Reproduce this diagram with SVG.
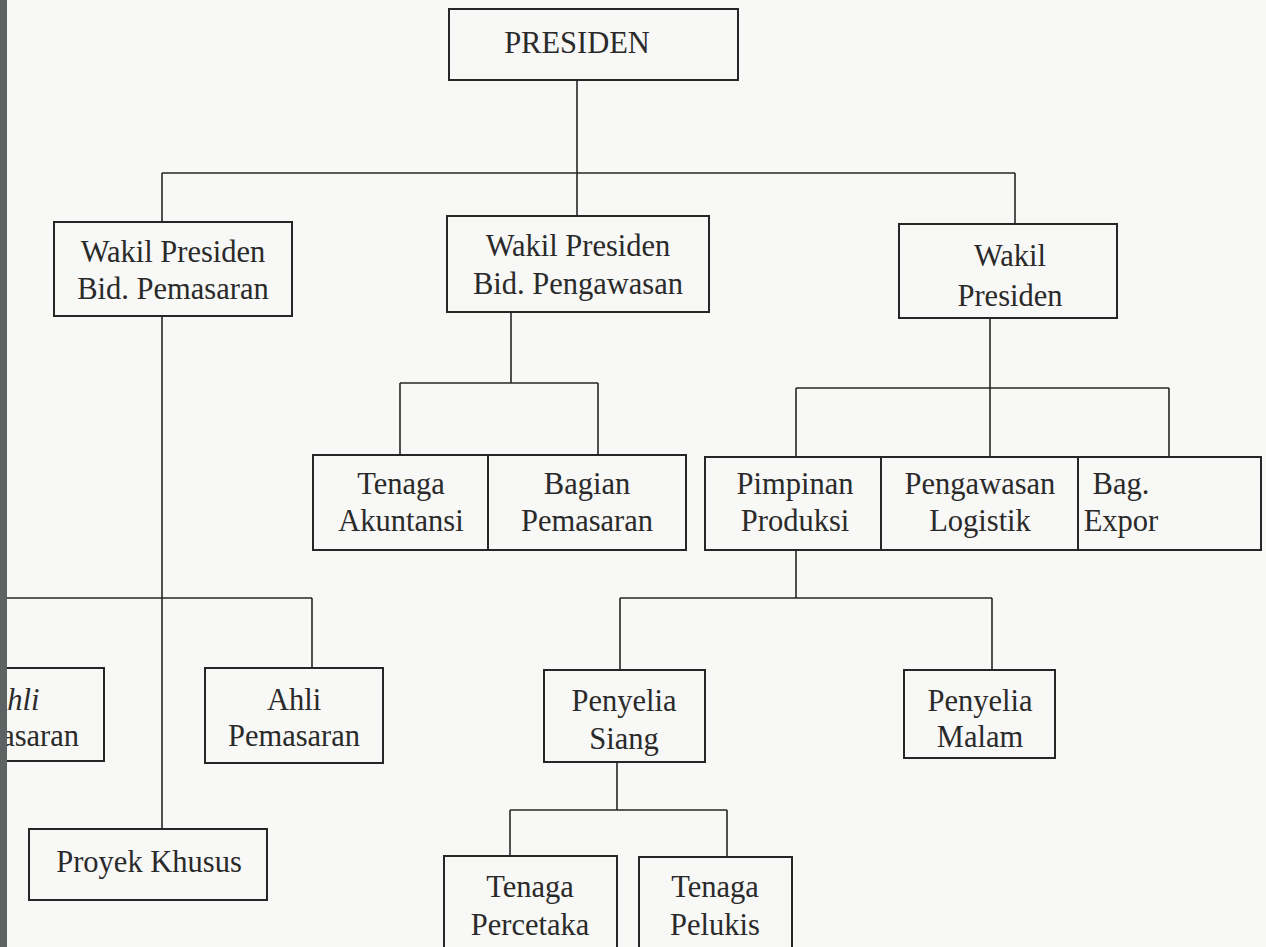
<svg xmlns="http://www.w3.org/2000/svg" width="1266" height="947" viewBox="0 0 1266 947">
<style>
.box{fill:none;stroke:#262626;stroke-width:2}
.ln{fill:none;stroke:#262626;stroke-width:1.6}
text{font-family:"Liberation Serif","Times New Roman",serif;font-size:30.5px;fill:#2a2a2a;text-anchor:middle}
</style>
<rect x="0" y="0" width="1266" height="947" fill="#f8f8f6"/>
<g id="connectors">
<path class="ln" d="M577 80V173M162 173H1015M162 173V222M577 173V216M1015 173V224"/>
<path class="ln" d="M162 316V829M0 598H312M312 598V668"/>
<path class="ln" d="M511 312V383M400 383H598M400 383V455M598 383V455"/>
<path class="ln" d="M990 318V457M796 388H1169M796 388V457M1169 388V457"/>
<path class="ln" d="M796 550V598M620 598H992M620 598V670M992 598V670"/>
<path class="ln" d="M617 762V810M510 810H727M510 810V856M727 810V857"/>
</g>
<g id="presiden"><rect class="box" x="449" y="9" width="289" height="71"/><text x="577" y="53">PRESIDEN</text></g>
<g id="wp-pemasaran"><rect class="box" x="54" y="222" width="238" height="94"/><text x="173" y="262">Wakil Presiden</text><text x="173" y="299">Bid. Pemasaran</text></g>
<g id="wp-pengawasan"><rect class="box" x="447" y="216" width="262" height="96"/><text x="578" y="256">Wakil Presiden</text><text x="578" y="294">Bid. Pengawasan</text></g>
<g id="wp"><rect class="box" x="899" y="224" width="218" height="94"/><text x="1010" y="266">Wakil</text><text x="1010" y="306">Presiden</text></g>
<g id="tenaga-akuntansi"><rect class="box" x="313" y="455" width="175" height="95"/><text x="401" y="494">Tenaga</text><text x="401" y="531">Akuntansi</text></g>
<g id="bagian-pemasaran"><rect class="box" x="488" y="455" width="198" height="95"/><text x="587" y="494">Bagian</text><text x="587" y="531">Pemasaran</text></g>
<g id="pimpinan-produksi"><rect class="box" x="705" y="457" width="176" height="93"/><text x="795" y="494">Pimpinan</text><text x="795" y="531">Produksi</text></g>
<g id="pengawasan-logistik"><rect class="box" x="881" y="457" width="197" height="93"/><text x="980" y="494">Pengawasan</text><text x="980" y="531">Logistik</text></g>
<g id="bag-expor"><rect class="box" x="1078" y="457" width="183" height="93"/><text x="1121" y="494">Bag.</text><text x="1121" y="531">Expor</text></g>
<g id="ahli-left"><rect class="box" x="-80" y="668" width="184" height="93"/><text x="14" y="710" font-style="italic">Ahli</text><text x="13" y="746">Pemasaran</text></g>
<g id="ahli-pemasaran"><rect class="box" x="205" y="668" width="178" height="95"/><text x="294" y="710">Ahli</text><text x="294" y="746">Pemasaran</text></g>
<g id="proyek-khusus"><rect class="box" x="29" y="829" width="238" height="71"/><text x="149" y="872">Proyek Khusus</text></g>
<g id="penyelia-siang"><rect class="box" x="544" y="670" width="161" height="92"/><text x="624" y="711">Penyelia</text><text x="624" y="749">Siang</text></g>
<g id="penyelia-malam"><rect class="box" x="904" y="670" width="151" height="88"/><text x="980" y="711">Penyelia</text><text x="980" y="747">Malam</text></g>
<g id="tenaga-percetaka"><rect class="box" x="444" y="856" width="173" height="100"/><text x="530" y="897">Tenaga</text><text x="530" y="935">Percetaka</text></g>
<g id="tenaga-pelukis"><rect class="box" x="639" y="857" width="153" height="100"/><text x="715" y="897">Tenaga</text><text x="715" y="935">Pelukis</text></g>
<rect x="0" y="0" width="7" height="947" fill="#5d6262"/>
</svg>
